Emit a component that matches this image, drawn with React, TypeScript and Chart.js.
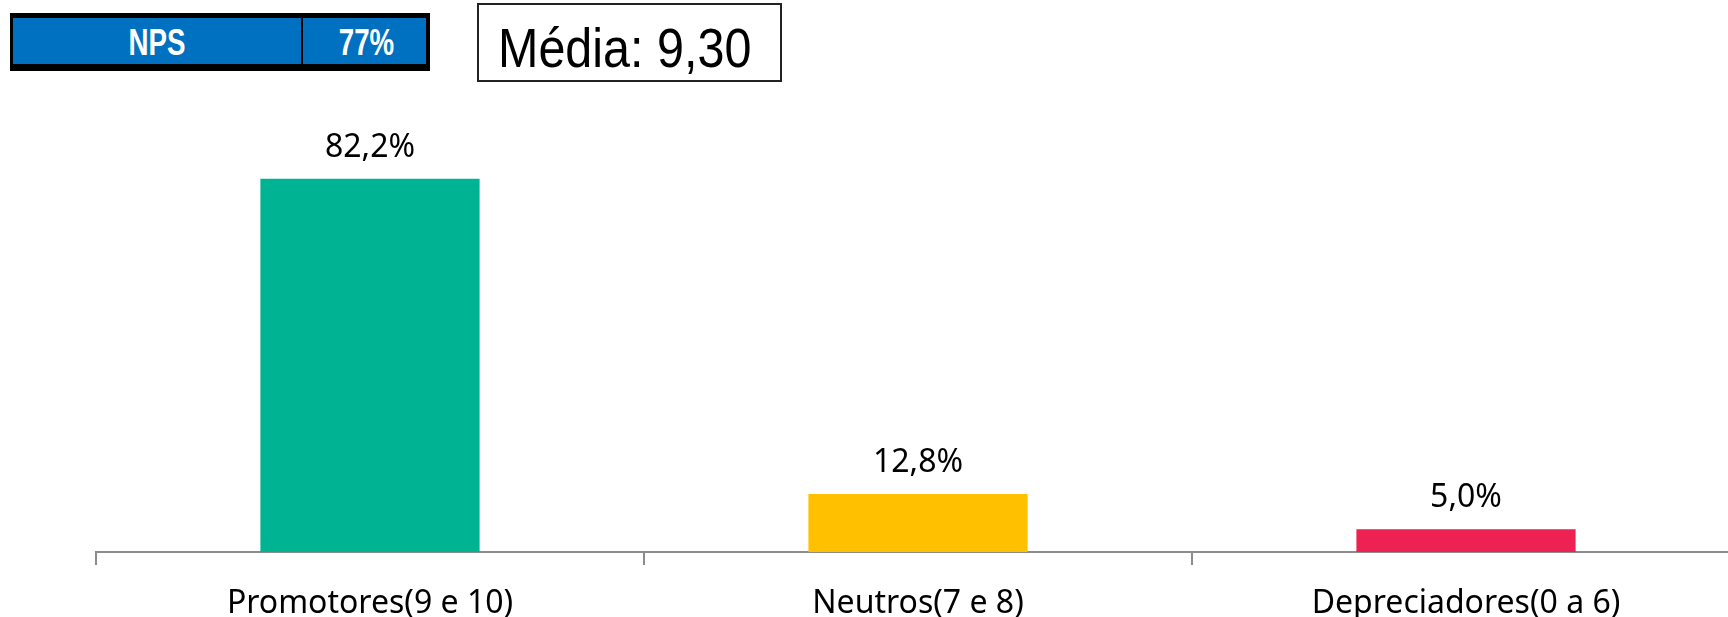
import React, { useEffect, useRef } from "react";
import { Chart, registerables } from "chart.js";

Chart.register(...registerables);

const categories = ["Promotores(9 e 10)", "Neutros(7 e 8)", "Depreciadores(0 a 6)"];
const values = [82.2, 12.8, 5.0];
const valueLabels = ["82,2%", "12,8%", "5,0%"];
const barColors = ["#00B493", "#FFC000", "#EE2153"];
const npsLabel = "NPS";
const npsValue = "77%";
const mediaLabel = "Média: 9,30";

const CANVAS_W = 1760;
const CANVAS_H = 617;

const valueLabelPlugin = {
  id: "valueLabels",
  afterDatasetsDraw(chart: any) {
    const ctx = chart.ctx;
    const meta = chart.getDatasetMeta(0);
    ctx.save();
    ctx.fillStyle = "#000";
    ctx.font = "32px 'Noto Sans'";
    ctx.textAlign = "center";
    ctx.textBaseline = "alphabetic";
    meta.data.forEach((bar: any, i: number) => {
      ctx.fillText(valueLabels[i], bar.x, bar.y - 22);
    });
    ctx.restore();
  },
};

export default function App() {
  const ref = useRef<HTMLCanvasElement | null>(null);

  useEffect(() => {
    if (!ref.current) return;
    const chart = new Chart(ref.current, {
      type: "bar",
      data: {
        labels: categories,
        datasets: [
          {
            data: values,
            backgroundColor: barColors,
            borderWidth: 0,
            barPercentage: 0.4,
            categoryPercentage: 1,
          },
        ],
      },
      options: {
        responsive: false,
        animation: false,
        devicePixelRatio: 1,
        layout: { padding: { left: 96, right: CANVAS_W - 1740, top: 98, bottom: 0 } },
        plugins: {
          legend: { display: false },
          tooltip: { enabled: false },
          title: { display: false },
        },
        scales: {
          x: {
            afterFit: (scale: any) => {
              scale.height = 65;
            },
            grid: {
              display: true,
              drawOnChartArea: false,
              drawTicks: true,
              tickLength: 13,
              color: "#8c8c8c",
              lineWidth: 2,
              offset: true,
            },
            border: { display: true, color: "#8c8c8c", width: 2 },
            ticks: {
              color: "#000",
              font: { family: "'Noto Sans'", size: 32, lineHeight: 1 },
              padding: 22.5,
              maxRotation: 0,
              autoSkip: false,
            },
          },
          y: { display: false, min: 0, max: 100 },
        },
      },
      plugins: [valueLabelPlugin],
    });
    return () => chart.destroy();
  }, []);

  const npsText: React.CSSProperties = {
    position: "absolute",
    top: 11.5,
    textAlign: "center",
    color: "#fff",
    fontFamily: "'Liberation Sans', Arial, sans-serif",
    fontWeight: "bold",
    fontSize: 36,
    lineHeight: "36px",
    transform: "scaleX(0.77)",
    transformOrigin: "center",
  };

  return (
    <div
      style={{
        position: "fixed",
        left: 0,
        top: 0,
        width: 1728,
        height: 617,
        overflow: "hidden",
        background: "#fff",
      }}
    >
      <canvas
        ref={ref}
        width={CANVAS_W}
        height={CANVAS_H}
        style={{ position: "absolute", left: 0, top: 0, width: CANVAS_W, height: CANVAS_H }}
      />
      {/* NPS box */}
      <div
        style={{
          position: "absolute",
          left: 10,
          top: 13,
          width: 420,
          height: 58,
          background: "#000",
        }}
      >
        <div
          style={{
            position: "absolute",
            left: 3,
            top: 5,
            width: 288,
            height: 46,
            background: "#0070C0",
          }}
        />
        <div
          style={{
            position: "absolute",
            left: 293,
            top: 5,
            width: 123,
            height: 46,
            background: "#0070C0",
          }}
        />
        <div style={{ ...npsText, left: 3, width: 288 }}>{npsLabel}</div>
        <div style={{ ...npsText, left: 295, width: 123 }}>{npsValue}</div>
      </div>
      {/* Média box */}
      <div
        style={{
          position: "absolute",
          left: 477,
          top: 3,
          width: 301,
          height: 75,
          border: "2px solid #222",
          background: "#fff",
        }}
      />
      <div
        style={{
          position: "absolute",
          left: 498,
          top: 26,
          whiteSpace: "nowrap",
          color: "#000",
          fontFamily: "'Liberation Sans', Arial, sans-serif",
          fontSize: 48.5,
          lineHeight: "48.5px",
          transform: "scaleY(1.15)",
          transformOrigin: "0 41px",
        }}
      >
        {mediaLabel}
      </div>
    </div>
  );
}
